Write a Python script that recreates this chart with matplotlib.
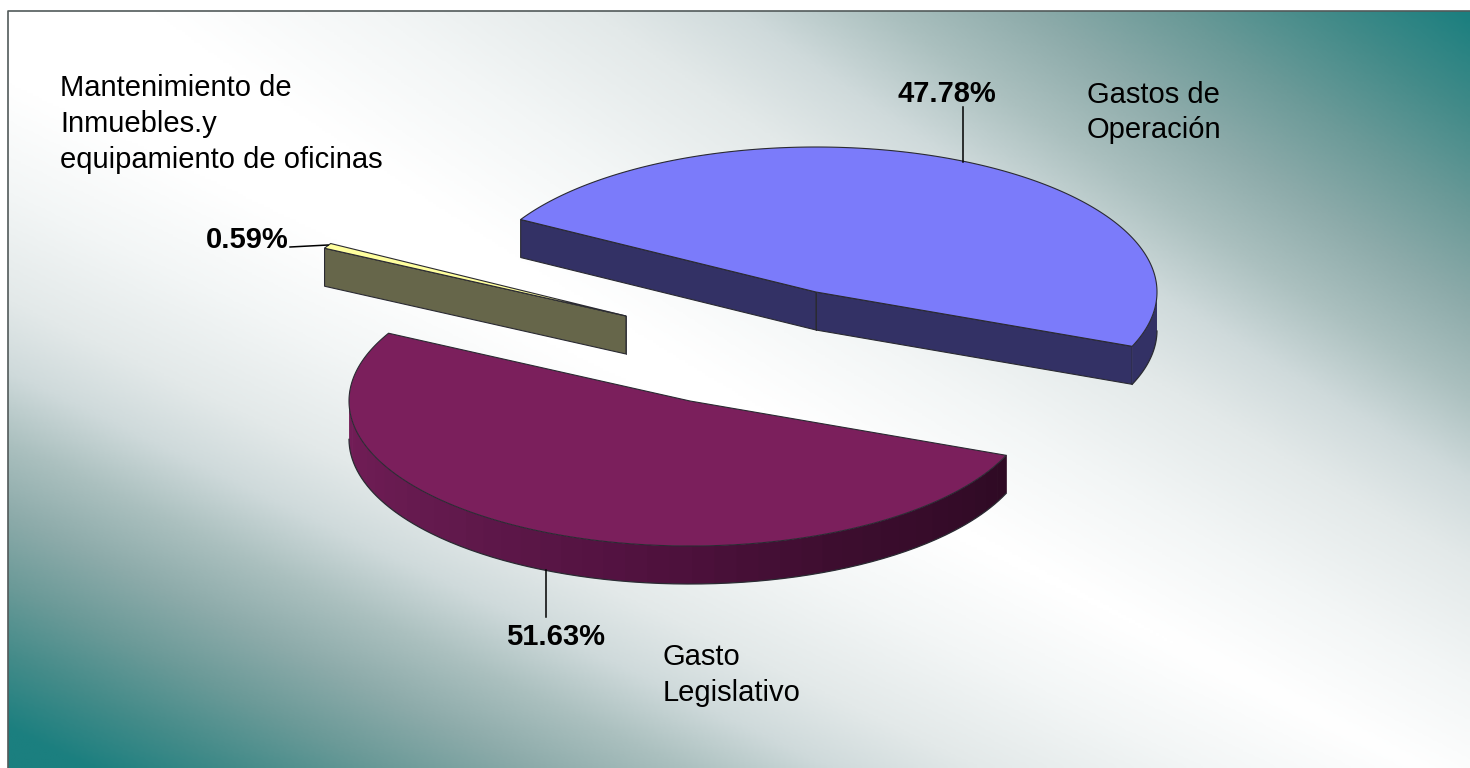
import numpy as np
import matplotlib
matplotlib.use("Agg")
import matplotlib.pyplot as plt
from matplotlib.patches import Polygon
from matplotlib.colors import LinearSegmentedColormap

plt.rcParams['font.family'] = ['Liberation Sans', 'DejaVu Sans']

# ---- data (counter-clockwise from the first wedge) ----
categories = ["Gastos de\nOperación",
              "Mantenimiento de\nInmuebles.y\nequipamiento de oficinas",
              "Gasto\nLegislativo"]
shares = [47.78, 0.59, 51.63]
share_labels = ["47.78%", "0.59%", "51.63%"]
top_colors = ["#7b7bfa", "#ffff9e", "#7b1f5c"]
side_colors = ["#333165", "#66664a", "#5a1545"]

# ---- layout ----
W, H = 1470, 768
A, B, DEPTH = 341, 145, 38
START = -22.0
apexes = [(816, 292), (626, 316), (690, 401)]
EDGE = "#2a2a32"

fig = plt.figure(figsize=(W / 100, H / 100), dpi=100, facecolor="white")
ax = fig.add_axes([0, 0, 1, 1])
ax.axis("off")

# background gradient: teal corners top right and bottom left, white between
X0, Y0 = 8, 11
xx, yy = np.meshgrid(np.linspace(0, 1, 500), np.linspace(0, 1, 300))
s = np.clip(np.maximum(xx - 0.72 * yy - 0.14 * yy ** 2, 1.05 * (yy - 0.93 * xx)), 0, 1)
bg_ramp = LinearSegmentedColormap.from_list("bg", [
    (0.00, "#ffffff"), (0.10, "#ffffff"), (0.25, "#f3f6f6"), (0.40, "#e3e9e9"),
    (0.50, "#cfdadb"), (0.60, "#abc0bf"), (0.70, "#8dabaa"), (0.80, "#6b9a98"),
    (0.90, "#438b89"), (1.00, "#1b7f7f")])
ax.imshow(bg_ramp(s), extent=(X0, W, H, Y0), aspect="auto", zorder=0, interpolation="bilinear")
ax.plot([X0, X0, W], [H, Y0, Y0], color="#525a5a", lw=1.2, zorder=1)
ax.set_xlim(0, W)
ax.set_ylim(H, 0)


def rim(c, t):
    r = np.radians(t)
    return np.column_stack([c[0] + A * np.cos(r), c[1] - B * np.sin(r)])


purple_ramp = LinearSegmentedColormap.from_list(
    "side", ["#741d58", "#641a4e", "#521240", "#3c0d2e", "#2f0a24"])

angles = START + np.concatenate([[0], np.cumsum(shares)]) * 3.6
z = 3
for i in range(3):
    c = apexes[i]
    t1, t2 = angles[i], angles[i + 1]
    ts = np.linspace(t1, t2, 240)
    outer = rim(c, ts)
    down = np.array([0, DEPTH])

    # radial side faces
    for t, vis in ((t1, np.cos(np.radians(t1)) > 0), (t2, np.cos(np.radians(t2)) < 0)):
        if vis:
            p = rim(c, np.array([t]))[0]
            quad = [c, p, p + down, np.array(c) + down]
            ax.add_patch(Polygon(quad, closed=True, fc=side_colors[i], ec=EDGE, lw=0.8, zorder=z))
            ax.plot([c[0], c[0]], [c[1], c[1] + DEPTH], color=EDGE, lw=0.6, zorder=z + 0.1)

    # curved side face (front half only)
    front = np.sin(np.radians(ts)) < 0
    ft = ts[front]
    if ft.size > 1:
        if i == 2:
            n = 42
            edges = np.linspace(ft[0], ft[-1], n + 1)
            for k in range(n):
                seg = rim(c, np.linspace(edges[k], edges[k + 1] + 0.3, 8))
                poly = np.vstack([seg, seg[::-1] + down])
                ax.add_patch(Polygon(poly, closed=True, fc=purple_ramp(k / (n - 1)),
                                     ec="none", zorder=z))
        else:
            seg = rim(c, ft)
            poly = np.vstack([seg, seg[::-1] + down])
            ax.add_patch(Polygon(poly, closed=True, fc=side_colors[i], ec="none", zorder=z))
        seg = rim(c, ft) + down
        ax.plot(seg[:, 0], seg[:, 1], color=EDGE, lw=0.9, zorder=z + 0.1)

    # top surface
    top = np.vstack([[c], outer])
    ax.add_patch(Polygon(top, closed=True, fc=top_colors[i], ec=EDGE, lw=0.8,
                         joinstyle="round", zorder=z + 0.2))
    z += 1

# leader lines
ax.plot([963, 963], [107, 162], color="black", lw=1.1, zorder=9)
ax.plot([290, 328], [247, 245], color="black", lw=1.1, zorder=9)
ax.plot([546, 546], [570, 617], color="black", lw=1.1, zorder=9)

# labels
FS = 21
for line, y in zip(categories[0].split("\n"), (95, 130)):
    ax.text(1087, y, line, fontsize=FS, va="center", zorder=10)
for line, y in zip(categories[1].split("\n"), (88, 124, 160)):
    ax.text(60, y, line, fontsize=FS, va="center", zorder=10)
for line, y in zip(categories[2].split("\n"), (657, 693)):
    ax.text(663, y, line, fontsize=FS, va="center", zorder=10)

for lab, (x, y) in zip(share_labels, ((947, 94), (247, 240), (556, 637))):
    ax.text(x, y, lab, fontsize=FS, fontweight="bold", ha="center", va="center", zorder=10)

fig.savefig("out.png", dpi=100, facecolor="white")
